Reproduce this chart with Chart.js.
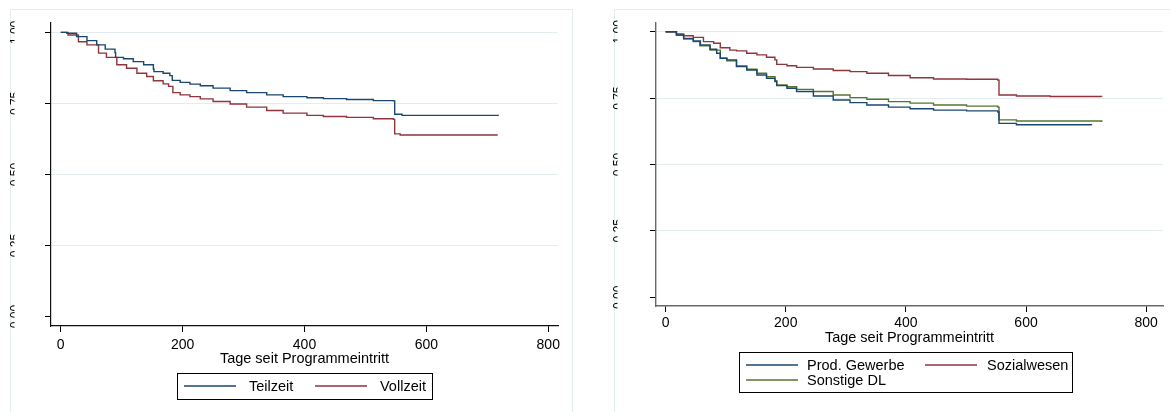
<!DOCTYPE html>
<html><head><meta charset="utf-8">
<script src="https://cdn.jsdelivr.net/npm/chart.js@4.4.1/dist/chart.umd.min.js"></script>
<style>
html,body{margin:0;padding:0;background:#fff;width:1170px;height:412px;overflow:hidden}
#cl{position:absolute;left:0;top:0}
#cr{position:absolute;left:600px;top:0}
</style></head><body>
<canvas id="cl" width="600" height="412"></canvas>
<canvas id="cr" width="570" height="412"></canvas>
<script>
// ---- tick labels / titles ----
const xTicks = [0, 200, 400, 600, 800];
const yTicks = [0, 0.25, 0.5, 0.75, 1];
const xTitle = 'Tage seit Programmeintritt';

// ---- left panel: Teilzeit / Vollzeit ----
const teilzeitDays = [0, 10, 26, 43, 59, 73, 89, 90, 103, 119, 136, 152, 153, 168, 179, 183, 196, 212, 229, 250, 278, 305, 338, 365, 404, 431, 469, 513, 546, 548, 560, 718];
const teilzeitSurv = [1.000, 0.997, 0.985, 0.971, 0.956, 0.941, 0.929, 0.912, 0.907, 0.897, 0.886, 0.871, 0.862, 0.856, 0.848, 0.831, 0.824, 0.818, 0.812, 0.804, 0.795, 0.788, 0.780, 0.774, 0.770, 0.767, 0.764, 0.760, 0.759, 0.712, 0.708, 0.707];
const vollzeitDays = [0, 12, 29, 43, 62, 75, 92, 108, 125, 141, 152, 168, 177, 184, 196, 212, 229, 250, 278, 305, 338, 365, 404, 431, 469, 513, 546, 548, 557, 716];
const vollzeitSurv = [1.000, 0.991, 0.967, 0.956, 0.927, 0.912, 0.886, 0.874, 0.856, 0.845, 0.830, 0.819, 0.810, 0.788, 0.780, 0.774, 0.766, 0.757, 0.748, 0.737, 0.725, 0.716, 0.708, 0.704, 0.701, 0.696, 0.694, 0.643, 0.639, 0.636];

// ---- right panel: sectors ----
const prodDays = [0, 18, 30, 46, 58, 74, 85, 91, 102, 118, 135, 152, 168, 182, 185, 202, 218, 246, 279, 307, 335, 371, 407, 446, 501, 553, 555, 584, 709];
const prodSurv = [1.000, 0.988, 0.975, 0.965, 0.950, 0.934, 0.919, 0.900, 0.894, 0.869, 0.856, 0.837, 0.825, 0.812, 0.797, 0.787, 0.775, 0.758, 0.743, 0.733, 0.724, 0.716, 0.710, 0.705, 0.702, 0.698, 0.655, 0.650, 0.648];
const sozDays = [0, 18, 30, 46, 63, 80, 91, 107, 118, 135, 152, 168, 182, 185, 202, 218, 246, 279, 307, 335, 371, 407, 446, 501, 553, 555, 584, 640, 726];
const sozSurv = [1.000, 0.992, 0.985, 0.979, 0.963, 0.957, 0.940, 0.931, 0.928, 0.919, 0.913, 0.904, 0.894, 0.877, 0.872, 0.866, 0.860, 0.854, 0.850, 0.844, 0.835, 0.827, 0.822, 0.821, 0.818, 0.762, 0.758, 0.756, 0.755];
const sonstDays = [0, 18, 30, 46, 57, 74, 91, 102, 118, 135, 152, 168, 182, 185, 202, 218, 246, 279, 307, 335, 371, 407, 446, 501, 553, 555, 584, 726];
const sonstSurv = [1.000, 0.988, 0.973, 0.963, 0.947, 0.931, 0.900, 0.891, 0.871, 0.859, 0.844, 0.831, 0.816, 0.800, 0.793, 0.783, 0.775, 0.762, 0.752, 0.746, 0.737, 0.731, 0.724, 0.720, 0.716, 0.668, 0.664, 0.660];

const NAVY = '#1a476f', MAROON = '#90353b', GREEN = '#55752f';
const FONT = '"Liberation Sans", Arial, Helvetica, sans-serif';

function pts(days, surv) { return days.map((d, i) => ({x: d, y: surv[i]})); }
function ds(label, days, surv, color) {
  return {label, data: pts(days, surv), borderColor: color, backgroundColor: color,
    borderWidth: 1.4, pointRadius: 0, stepped: true, fill: false, tension: 0};
}

function panelPlugin(cfg) {
  return {
    id: 'panel_' + cfg.id,
    beforeDraw(chart) {
      const ctx = chart.ctx, f = cfg.frame;
      ctx.save();
      ctx.strokeStyle = '#e3ecef'; ctx.lineWidth = 1;
      ctx.beginPath();
      ctx.moveTo(f.left + .5, chart.height);
      ctx.lineTo(f.left + .5, f.top + .5);
      ctx.lineTo(f.right == null ? chart.width : f.right + .5, f.top + .5);
      if (f.right != null) ctx.lineTo(f.right + .5, chart.height);
      ctx.stroke();
      ctx.restore();
    },
    afterDraw(chart) {
      const ctx = chart.ctx, ys = chart.scales.y;
      // rotated (clipped) y tick labels
      ctx.save();
      ctx.beginPath(); ctx.rect(0, 0, cfg.clipX, chart.height); ctx.clip();
      ctx.fillStyle = '#000'; ctx.font = '12px ' + FONT;
      ctx.textAlign = 'center'; ctx.textBaseline = 'alphabetic';
      ys.ticks.forEach(t => {
        const py = ys.getPixelForValue(t.value);
        ctx.save(); ctx.translate(cfg.labelX, py); ctx.rotate(-Math.PI / 2);
        ctx.fillText(t.value.toFixed(2), 0, 0);
        ctx.restore();
      });
      ctx.restore();
      // legend
      const L = cfg.legend;
      ctx.save();
      ctx.strokeStyle = '#000'; ctx.lineWidth = 1;
      ctx.strokeRect(L.box[0] + .5, L.box[1] + .5, L.box[2] - L.box[0], L.box[3] - L.box[1]);
      ctx.font = '14.5px ' + FONT; ctx.fillStyle = '#000';
      ctx.textAlign = 'left'; ctx.textBaseline = 'middle';
      L.items.forEach(it => {
        const d = chart.data.datasets[it.ds];
        ctx.strokeStyle = d.borderColor; ctx.lineWidth = 1.4;
        ctx.beginPath(); ctx.moveTo(it.lx, it.y); ctx.lineTo(it.lx + 52, it.y); ctx.stroke();
        ctx.fillText(d.label, it.tx, it.y + 1);
      });
      ctx.restore();
    }
  };
}

function makeChart(id, datasets, c) {
  return new Chart(document.getElementById(id), {
    type: 'line',
    data: {datasets},
    options: {
      responsive: false, animation: false, devicePixelRatio: 1,
      layout: {padding: c.padding},
      plugins: {legend: {display: false}, tooltip: {enabled: false}},
      scales: {
        x: {
          type: 'linear', min: c.xmin, max: c.xmax,
          afterBuildTicks: s => { s.ticks = xTicks.map(v => ({value: v})); },
          afterFit: s => { s.height = c.xh; },
          grid: {display: true, drawOnChartArea: false, drawTicks: true, tickLength: 6, tickColor: '#000', tickWidth: 1},
          border: {display: true, color: c.axisColor, width: c.axisWidth},
          ticks: {color: '#000', font: {family: FONT, size: 14}, padding: c.tickPad, maxRotation: 0, autoSkip: false},
          title: {display: true, text: xTitle, color: '#000', font: {family: FONT, size: 14.5, lineHeight: 1.2}, padding: {top: 0, bottom: 0}}
        },
        y: {
          type: 'linear', min: -0.033, max: 1.033,
          afterBuildTicks: s => { s.ticks = yTicks.map(v => ({value: v})); },
          afterFit: s => { s.width = c.yw; },
          grid: {display: true, drawOnChartArea: true, drawTicks: true, tickLength: 6, tickColor: '#000', tickWidth: 1,
            color: ctx => (ctx.tick && ctx.tick.value === 0) ? 'rgba(0,0,0,0)' : '#e3ecef', lineWidth: 1},
          border: {display: true, color: c.axisColor, width: c.axisWidth},
          ticks: {display: false}
        }
      }
    },
    plugins: [panelPlugin(c.panel)]
  });
}

makeChart('cl', [
  ds('Teilzeit', teilzeitDays, teilzeitSurv, NAVY),
  ds('Vollzeit', vollzeitDays, vollzeitSurv, MAROON)
], {
  padding: {left: 0, top: 23, right: 42, bottom: 44},
  xmin: -16, xmax: 816, xh: 42, yw: 51, tickPad: 5,
  axisColor: '#111', axisWidth: 1.2,
  panel: {id: 'l', frame: {left: 10, top: 9, right: 572}, clipX: 14.5, labelX: 18.5,
    legend: {box: [177, 373, 432, 399], items: [
      {ds: 0, lx: 184, tx: 249, y: 386},
      {ds: 1, lx: 315, tx: 380, y: 386}
    ]}}
});

makeChart('cr', [
  ds('Prod. Gewerbe', prodDays, prodSurv, NAVY),
  ds('Sozialwesen', sozDays, sozSurv, MAROON),
  ds('Sonstige DL', sonstDays, sonstSurv, GREEN)
], {
  padding: {left: 0, top: 23, right: 7, bottom: 65},
  xmin: -16, xmax: 828, xh: 41, yw: 56, tickPad: 3,
  axisColor: '#6a6a6a', axisWidth: 1.4,
  panel: {id: 'r', frame: {left: 14, top: 9, right: null}, clipX: 17.5, labelX: 22,
    legend: {box: [139, 352, 472, 392], items: [
      {ds: 0, lx: 146, tx: 207, y: 365},
      {ds: 1, lx: 325, tx: 387, y: 365},
      {ds: 2, lx: 146, tx: 207, y: 380}
    ]}}
});
</script>
</body></html>
